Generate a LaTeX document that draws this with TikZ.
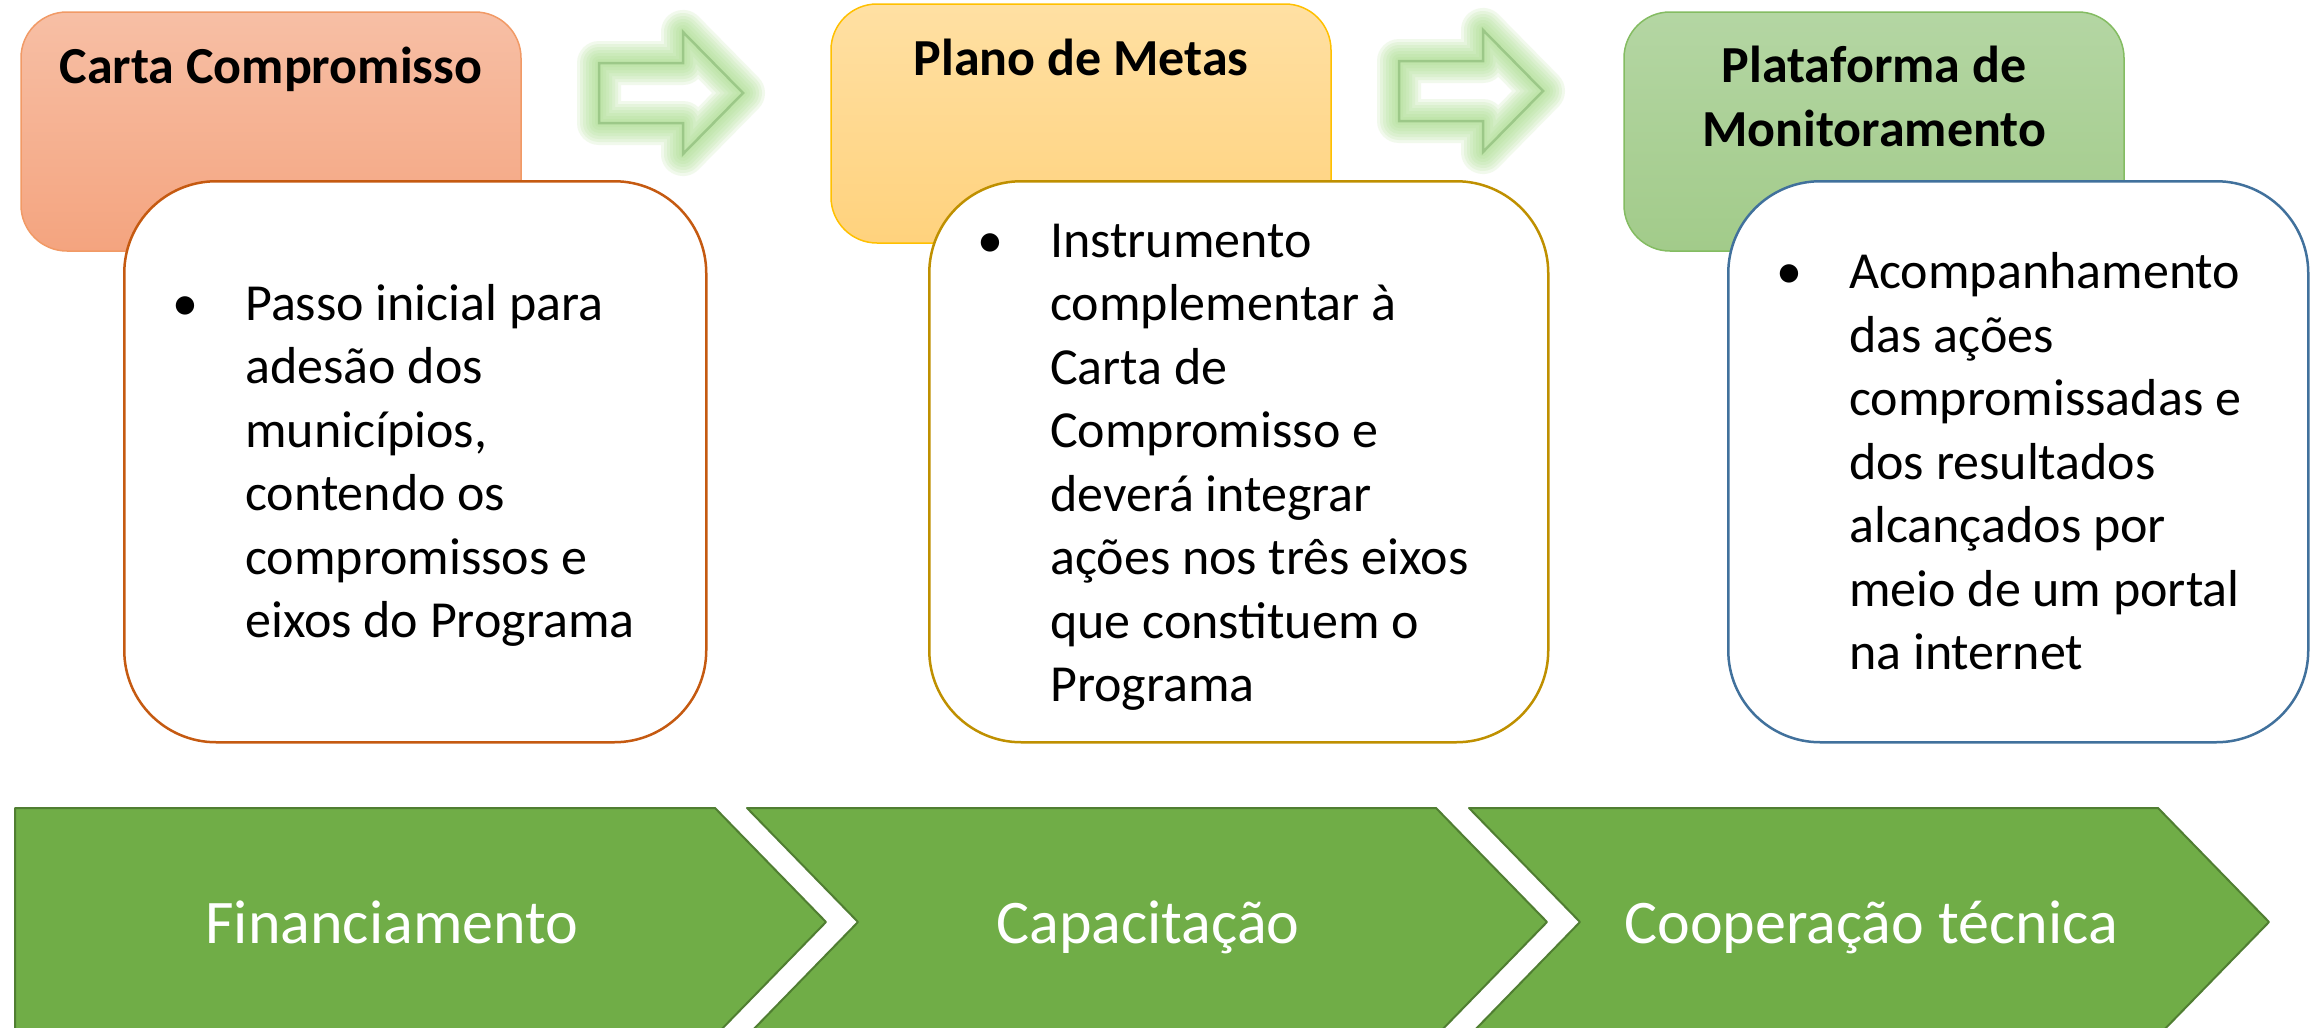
\documentclass[tikz,border=0pt]{standalone}
\usepackage{fontspec}
\setmainfont{Carlito}
\usetikzlibrary{positioning}

\definecolor{cartaTop}{HTML}{F7BFA5}
\definecolor{cartaBot}{HTML}{F4A47F}
\definecolor{cartaEdge}{HTML}{F19A66}
\definecolor{cartaLine}{HTML}{C55A11}
\definecolor{planoTop}{HTML}{FFE0A3}
\definecolor{planoBot}{HTML}{FFD27D}
\definecolor{planoEdge}{HTML}{FFC000}
\definecolor{planoLine}{HTML}{BF9000}
\definecolor{plataTop}{HTML}{B4D6A3}
\definecolor{plataBot}{HTML}{A2CB8A}
\definecolor{plataEdge}{HTML}{84BC62}
\definecolor{plataLine}{HTML}{41719C}
\definecolor{chevGreen}{HTML}{70AD47}
\definecolor{chevEdge}{HTML}{507E32}
\definecolor{glowGreen}{HTML}{A5DC86}
\definecolor{arrowEdge}{HTML}{9CC888}

\tikzset{
  x=1pt, y=-1pt,
  head/.style={rounded corners=46pt, minimum width=500pt, minimum height=239pt, line width=1.5pt},
  card/.style={fill=white, rounded corners=92pt, minimum height=561pt, line width=2.5pt, anchor=north west},
  title/.style={font=\bfseries\fontsize{52}{63.5}\selectfont, align=center, inner sep=0pt},
  body/.style={font=\fontsize{52}{63.5}\selectfont, align=left, inner sep=0pt},
  chev/.style={fill=chevGreen, draw=chevEdge, line width=2pt, line join=round},
  chevtxt/.style={font=\fontsize{62}{70}\selectfont, text=white, anchor=base, inner sep=0pt},
  glow/.style={draw=glowGreen, line width=#1, opacity=.15, line join=round},
  arrowline/.style={draw=arrowEdge, line width=2.5pt, line join=miter}
}

\begin{document}
\begin{tikzpicture}
  \fill[white] (0,0) rectangle (2313,1028);
  \useasboundingbox (0,0) rectangle (2313,1028);
  \clip (0,0) rectangle (2313,1028);

  % glowing block arrows between the steps
  \foreach \dx/\dy in {0/0, 800/-2} {
    \begin{scope}[shift={(\dx,\dy)}]
      \foreach \w in {44,38,...,8}
        \draw[glow=\w pt] (599,63) -- (683,63) -- (683,32) -- (743,93)
          -- (683,154) -- (683,123) -- (599,123) -- cycle;
      \draw[arrowline] (599,63) -- (683,63) -- (683,32) -- (743,93)
        -- (683,154) -- (683,123) -- (599,123) -- cycle;
    \end{scope}
  }

  % step headers
  \node[head, top color=cartaTop, bottom color=cartaBot, draw=cartaEdge] (carta) at (271,131.5) {};
  \node[head, top color=planoTop, bottom color=planoBot, draw=planoEdge] (plano) at (1081,123.5) {};
  \node[head, top color=plataTop, bottom color=plataBot, draw=plataEdge] (plata) at (1874,131.5) {};

  \node[title, below=28pt of carta.north] (cartatitle) {\strut Carta Compromisso};
  \node[title, below=28pt of plano.north] (planotitle) {\strut Plano de Metas};
  \node[title, below=27pt of plata.north] (platatitle) {\strut Plataforma de\\Monitoramento};

  % description cards
  \node[card, draw=cartaLine, minimum width=582pt] (cartacard) at (123,180) {};
  \node[card, draw=planoLine, minimum width=619pt] (planocard) at (928,180) {};
  \node[card, draw=plataLine, minimum width=580pt] (platacard) at (1727,180) {};

  \node[body, below right=95.5pt and 122pt of cartacard.north west] (cartatext)
    {\llap{\makebox[73pt][l]{\textbullet}}\strut Passo inicial para\\adesão dos\\municípios,\\contendo os\\compromissos e\\eixos do Programa};
  \node[body, below right=32.5pt and 122pt of planocard.north west] (planotext)
    {\llap{\makebox[73pt][l]{\textbullet}}\strut Instrumento\\complementar à\\Carta de\\Compromisso e\\deverá integrar\\ações nos três eixos\\que constituem o\\Programa};
  \node[body, below right=64pt and 122pt of platacard.north west] (platatext)
    {\llap{\makebox[73pt][l]{\textbullet}}\strut Acompanhamento\\das ações\\compromissadas e\\dos resultados\\alcançados por\\meio de um portal\\na internet};

  % axes of the programme
  \draw[chev] (15,808) -- (715,808) -- (826,922) -- (715,1036) -- (15,1036) -- cycle;
  \foreach \i in {0,1}
    \draw[chev, xshift=\i*722pt] (747,808) -- (1436,808) -- (1547,922) -- (1436,1036)
      -- (747,1036) -- (858,922) -- cycle;

  \node[chevtxt] (financ) at (392,943) {Financiamento};
  \node[chevtxt] (capac) at (1148,943) {Capacitação};
  \node[chevtxt] (coop) at (1871,943) {Cooperação técnica};
\end{tikzpicture}
\end{document}
